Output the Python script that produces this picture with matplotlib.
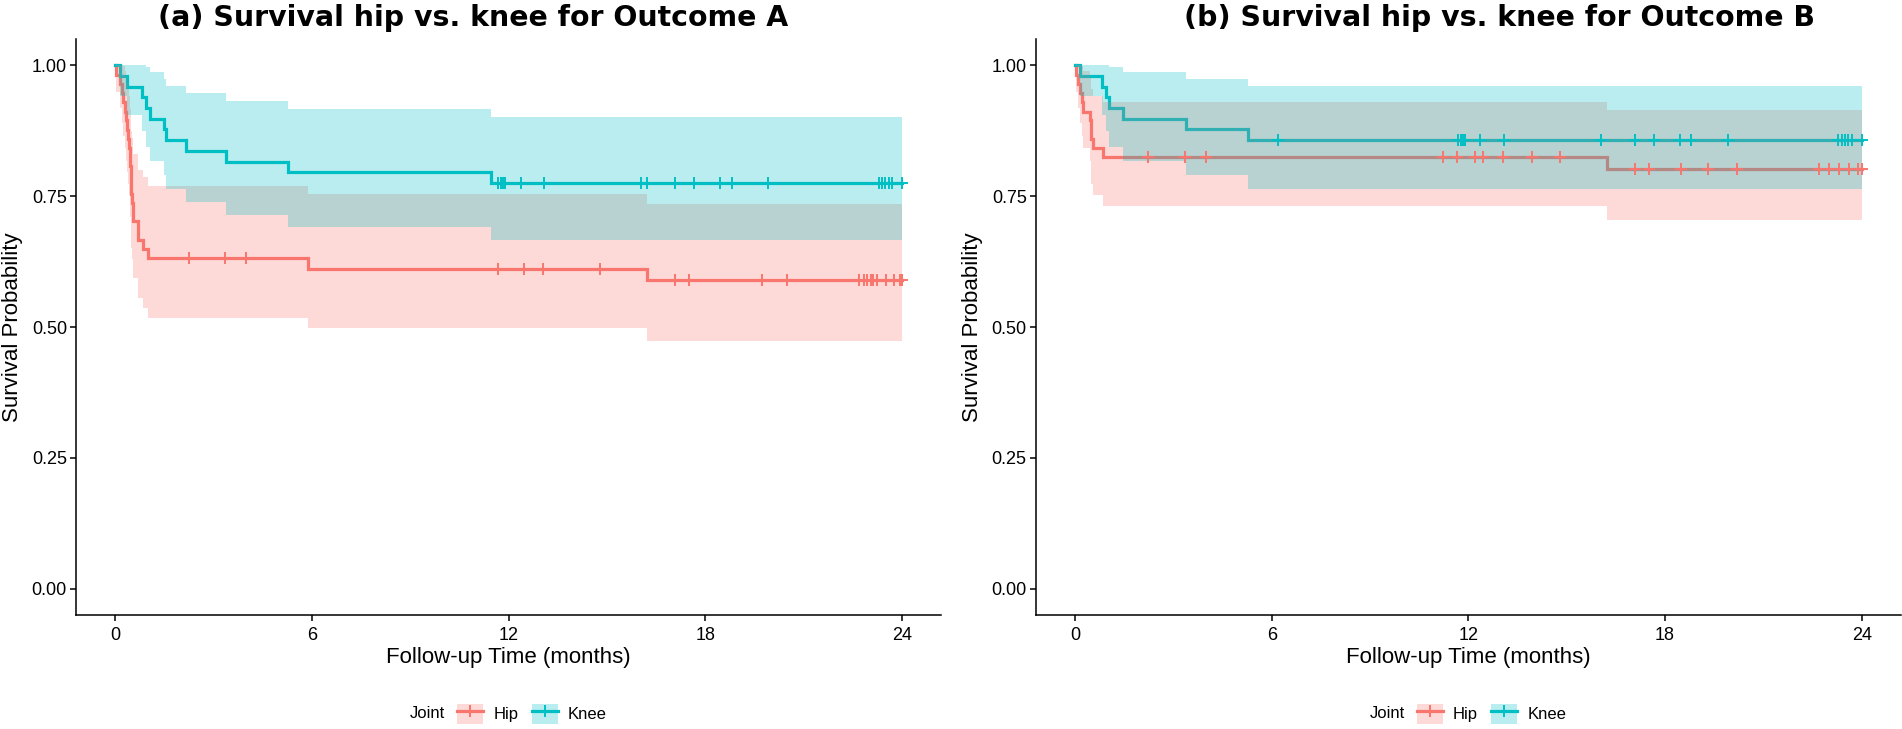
import matplotlib
matplotlib.use("Agg")
import matplotlib.pyplot as plt
from matplotlib.patches import Patch
from matplotlib.lines import Line2D

# ---------------- data ----------------
hipA_time = [0, 0.03, 0.15, 0.20, 0.24, 0.28, 0.32, 0.36, 0.40, 0.43, 0.45, 0.46,
             0.47, 0.48, 0.49, 0.51, 0.53, 0.55, 0.68, 0.84, 0.99, 5.88, 16.22, 24.0]
hipA_surv = [1, .982, .965, .947, .930, .912, .895, .877, .860, .842, .825, .807,
             .789, .772, .754, .737, .719, .702, .667, .649, .632, .612, .591, .591]
hipA_low = [1, .949, .918, .891, .866, .842, .818, .796, .774, .753, .732, .711,
            .690, .670, .651, .631, .612, .593, .555, .536, .518, .498, .474, .474]
hipA_up = [1, 1, 1, 1, .999, .989, .978, .967, .955, .942, .930, .916,
           .903, .889, .875, .861, .846, .831, .801, .786, .770, .754, .735, .735]
hipA_cens = [2.24, 3.36, 4.0, 11.67, 12.48, 13.05, 14.80, 17.07, 17.51, 19.73,
             20.5, 22.7, 22.85, 22.93, 23.04, 23.12, 23.23, 23.5, 23.75, 23.93, 24.0]

kneeA_time = [0, 0.13, 0.36, 0.81, 0.95, 1.05, 1.47, 1.56, 2.17, 3.38, 5.27, 11.46, 24.0]
kneeA_surv = [1, .980, .959, .939, .918, .898, .878, .857, .837, .816, .796, .776, .776]
kneeA_low = [1, .941, .905, .874, .845, .817, .791, .764, .740, .715, .691, .667, .667]
kneeA_up = [1, 1, 1, 1, .998, .987, .975, .961, .947, .932, .917, .902, .902]
kneeA_cens = [11.67, 11.77, 11.83, 11.88, 12.36, 13.09, 16.04, 16.22, 17.07, 17.66,
              18.46, 18.80, 19.92, 23.29, 23.39, 23.49, 23.59, 23.69, 24.0]

hipB_time = [0, 0.03, 0.10, 0.15, 0.20, 0.25, 0.46, 0.48, 0.50, 0.56, 0.86, 16.22, 24.0]
hipB_surv = [1, .982, .965, .947, .930, .912, .895, .877, .860, .842, .825, .802, .802]
hipB_low = [1, .949, .918, .891, .866, .842, .818, .796, .774, .753, .732, .704, .704]
hipB_up = [1, 1, 1, 1, .999, .989, .978, .967, .955, .942, .930, .915, .915]
hipB_cens = [2.22, 3.34, 4.0, 11.24, 11.64, 12.2, 12.45, 13.05, 13.93, 14.79,
             17.07, 17.51, 18.5, 19.3, 20.2, 22.7, 23.0, 23.3, 23.6, 23.9, 24.0]

kneeB_time = [0, 0.15, 0.83, 0.93, 1.05, 1.47, 3.38, 5.27, 24.0]
kneeB_surv = [1, .980, .959, .939, .918, .898, .878, .857, .857]
kneeB_low = [1, .941, .905, .874, .845, .817, .791, .764, .764]
kneeB_up = [1, 1, 1, 1, .998, .987, .975, .961, .961]
kneeB_cens = [6.18, 11.67, 11.77, 11.83, 11.90, 12.34, 13.09, 16.04, 17.07, 17.66,
              18.46, 18.80, 19.92, 23.29, 23.39, 23.49, 23.59, 23.69, 24.0]

groups = ["Hip", "Knee"]
colors = {"Hip": "#F8766D", "Knee": "#00BFC4"}
titles = ["(a) Survival hip vs. knee for Outcome A",
          "(b) Survival hip vs. knee for Outcome B"]
x_ticks = [0, 6, 12, 18, 24]
y_ticks = [0.00, 0.25, 0.50, 0.75, 1.00]
y_ticklabels = ["0.00", "0.25", "0.50", "0.75", "1.00"]
xlabel = "Follow-up Time (months)"
ylabel = "Survival Probability"

panels = [
    {"Hip": (hipA_time, hipA_surv, hipA_low, hipA_up, hipA_cens),
     "Knee": (kneeA_time, kneeA_surv, kneeA_low, kneeA_up, kneeA_cens)},
    {"Hip": (hipB_time, hipB_surv, hipB_low, hipB_up, hipB_cens),
     "Knee": (kneeB_time, kneeB_surv, kneeB_low, kneeB_up, kneeB_cens)},
]

# ---------------- figure ----------------
W, H = 1902, 729
plt.rcParams['font.family'] = ['Liberation Sans', 'DejaVu Sans']
fig = plt.figure(figsize=(W / 100, H / 100), dpi=100)

ax_w = 865.4
ax_top, ax_bot = 39.3, 615.0
lefts = [76.0, 1035.7]
title_x = [473.0, 1500.0]


def surv_at(times, surv, t):
    val = surv[0]
    for ti, si in zip(times, surv):
        if ti <= t:
            val = si
    return val


for i, data in enumerate(panels):
    ax = fig.add_axes([lefts[i] / W, (H - ax_bot) / H, ax_w / W, (ax_bot - ax_top) / H])
    # lines first
    for g in groups:
        t, s, lo, up, cens = data[g]
        ax.step(t, s, where="post", color=colors[g], lw=2.3, zorder=2,
                solid_joinstyle="miter")
    # ribbons over lines
    for g in groups:
        t, s, lo, up, cens = data[g]
        ax.fill_between(t, lo, up, step="post", color=colors[g], alpha=0.27,
                        lw=0, zorder=3)
    # censor marks on top
    for g in groups:
        t, s, lo, up, cens = data[g]
        cy = [surv_at(t, s, c) for c in cens]
        ax.plot(cens, cy, ls="none", marker="+", ms=8, mew=1.4,
                color=colors[g], zorder=4)

    ax.set_xlim(-1.2, 25.2)
    ax.set_ylim(-0.05, 1.05)
    ax.set_xticks(x_ticks)
    ax.set_xticklabels([str(v) for v in x_ticks])
    ax.set_yticks(y_ticks)
    ax.set_yticklabels(y_ticklabels)
    for sp in ["top", "right"]:
        ax.spines[sp].set_visible(False)
    for sp in ["left", "bottom"]:
        ax.spines[sp].set_linewidth(1.1)
    ax.tick_params(axis="both", direction="out", length=4, width=1.1,
                   labelsize=13, colors="black")
    ax.tick_params(axis="x", pad=4.5)
    ax.tick_params(axis="y", pad=2.5)

    cx = (lefts[i] + ax_w / 2) / W
    fig.text(cx, 1 - 657 / H, xlabel, ha="center", va="center", fontsize=16)
    fig.text((lefts[i] - 63) / W, 1 - 327 / H, ylabel, ha="center", va="center",
             rotation=90, fontsize=16)
    fig.text(title_x[i] / W, 1 - 18 / H, titles[i], ha="center", va="center",
             fontsize=20.4, fontweight="bold", family="DejaVu Sans")

    # legend
    handles = []
    for g in groups:
        handles.append((Patch(facecolor=colors[g], alpha=0.27, lw=0),
                        Line2D([], [], color=colors[g], lw=2.3, marker="+",
                               ms=8, mew=1.4)))
    fig.text((lefts[i] + 334) / W, 1 - 714 / H, "Joint", ha="left", va="center",
             fontsize=12)
    leg = fig.legend(handles, groups, loc="center",
                     bbox_to_anchor=((lefts[i] + 456) / W, 1 - 714 / H),
                     ncol=2, frameon=False, fontsize=12, handlelength=1.56,
                     handleheight=1.56, handletextpad=0.6, columnspacing=0.8,
                     borderpad=0, borderaxespad=0)

fig.savefig("out.png", dpi=100)
